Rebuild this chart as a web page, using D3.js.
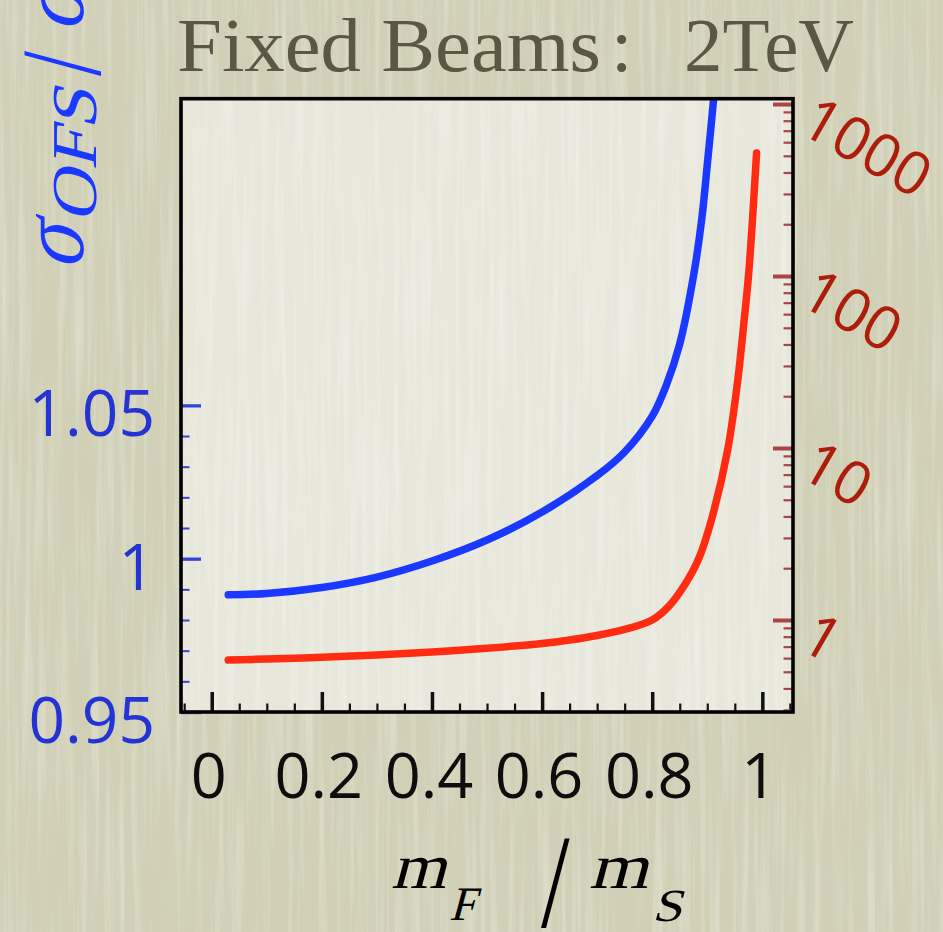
<!DOCTYPE html>
<html>
<head>
<meta charset="utf-8">
<script src="https://cdn.jsdelivr.net/npm/d3@7"></script>
<style>
  html, body { margin: 0; padding: 0; background: #d1d0b7; overflow: hidden; }
  svg { display: block; }
</style>
</head>
<body>
<svg id="chart"></svg>
<script>
// ratio sigma_OFS / sigma (left axis, linear)
var blueX     = [0.03, 0.10, 0.20, 0.30, 0.40, 0.50, 0.60, 0.70, 0.75, 0.80, 0.825, 0.85, 0.875, 0.89, 0.90, 0.914];
var blueRatio = [0.9882, 0.98865, 0.9906, 0.9940, 0.99925, 1.0061, 1.0152, 1.0271, 1.0348, 1.0465, 1.0563, 1.0700, 1.0922, 1.1108, 1.1284, 1.1545];

// second curve (right axis, log)
var redX     = [0.03, 0.10, 0.20, 0.30, 0.40, 0.50, 0.60, 0.65, 0.70, 0.75, 0.80, 0.83, 0.86, 0.885, 0.91, 0.937, 0.955, 0.967, 0.975, 0.983, 0.9895];
var redRatio = [0.585, 0.593, 0.607, 0.626, 0.652, 0.685, 0.730, 0.765, 0.813, 0.881, 1.0, 1.20, 1.619, 2.294, 4.08, 9.73, 24.2, 55.5, 101.3, 235.6, 519];

var xTicks = [0, 0.2, 0.4, 0.6, 0.8, 1];
var xTickLabels = ['0', '0.2', '0.4', '0.6', '0.8', '1'];
var leftTicks = [0.95, 1, 1.05];
var leftTickLabels = ['0.95', '1', '1.05'];
var rightTicks = [1, 10, 100, 1000];
var rightTickLabels = ['1', '10', '100', '1000'];

var w = 943, h = 932;
var plot = {left: 181, right: 793, top: 98.7, bottom: 712};

var x = d3.scaleLinear().domain([-0.0558, 1.0557]).range([plot.left, plot.right]);
var yL = d3.scaleLinear().domain([0.95, 1.15]).range([plot.bottom, plot.top]);
var yR = d3.scaleLog().domain([Math.pow(10, -0.535), Math.pow(10, 3.031)]).range([plot.bottom, plot.top]);

var svg = d3.select('#chart').attr('width', w).attr('height', h);
var defs = svg.append('defs');

// paper streaks
function streakFilter(id, freq, seed, rgb, a, b) {
  var f = defs.append('filter').attr('id', id)
      .attr('x', 0).attr('y', 0).attr('width', '100%').attr('height', '100%');
  f.append('feTurbulence').attr('type', 'fractalNoise')
      .attr('baseFrequency', freq).attr('numOctaves', 3).attr('seed', seed);
  f.append('feColorMatrix').attr('type', 'matrix')
      .attr('values', '0 0 0 0 ' + rgb[0] + ' 0 0 0 0 ' + rgb[1] + ' 0 0 0 0 ' + rgb[2] + ' ' + a + ' 0 0 0 ' + b);
}
streakFilter('lightStreaks', '0.16 0.005', 3, [0.92, 0.92, 0.85], 1.6, -0.74);
streakFilter('darkStreaks', '0.13 0.006', 11, [0.64, 0.63, 0.52], 1.4, -0.68);
streakFilter('plotStreaks', '0.16 0.005', 5, [1, 1, 0.98], 1.2, -0.52);

defs.append('clipPath').attr('id', 'plotClip')
  .append('rect')
    .attr('x', plot.left).attr('y', plot.top)
    .attr('width', plot.right - plot.left).attr('height', plot.bottom - plot.top);

svg.append('rect').attr('width', w).attr('height', h).attr('fill', '#d1d0b7');
svg.append('rect').attr('width', w).attr('height', h).attr('filter', 'url(#darkStreaks)').attr('opacity', 0.45);
svg.append('rect').attr('width', w).attr('height', h).attr('filter', 'url(#lightStreaks)').attr('opacity', 0.55);

// plot background
svg.append('rect')
    .attr('x', plot.left).attr('y', plot.top)
    .attr('width', plot.right - plot.left).attr('height', plot.bottom - plot.top)
    .attr('fill', '#e7e7db');
svg.append('rect')
    .attr('x', plot.left).attr('y', plot.top)
    .attr('width', plot.right - plot.left).attr('height', plot.bottom - plot.top)
    .attr('filter', 'url(#plotStreaks)').attr('opacity', 0.6);

// ticks
function tickGroup(axis, tx, ty, color, width) {
  var g = svg.append('g').attr('transform', 'translate(' + tx + ',' + ty + ')').call(axis);
  g.select('.domain').remove();
  g.selectAll('text').remove();
  g.selectAll('line').attr('stroke', color).attr('stroke-width', width);
  return g;
}

var xMinor = d3.range(-0.05, 1.0501, 0.05).filter(function(v) { return Math.abs(v * 5 - Math.round(v * 5)) > 1e-6; });
tickGroup(d3.axisBottom(x).tickValues(xMinor).tickSize(-8.5), 0, plot.bottom, '#111', 2.2);
tickGroup(d3.axisBottom(x).tickValues(xTicks).tickSize(-20), 0, plot.bottom, '#111', 3.5);

var leftMinor = d3.range(0.96, 1.045, 0.01).filter(function(v) { return Math.abs(v - 1) > 1e-6; });
tickGroup(d3.axisLeft(yL).tickValues(leftMinor).tickSize(-8.5), plot.left, 0, '#3443d8', 2);
tickGroup(d3.axisLeft(yL).tickValues(leftTicks).tickSize(-20), plot.left, 0, '#3443d8', 3.3);

var rightMinor = [];
[0.1, 1, 10, 100].forEach(function(d) {
  for (var k = 2; k <= 9; k++) {
    var v = d * k;
    if (v > yR.domain()[0] && v < yR.domain()[1]) rightMinor.push(v);
  }
});
tickGroup(d3.axisRight(yR).tickValues(rightMinor).tickSize(-9.5), plot.right, 0, '#a84646', 2.2);
tickGroup(d3.axisRight(yR).tickValues(rightTicks).tickSize(-20), plot.right, 0, '#a84646', 4);

// curves
var curves = svg.append('g').attr('clip-path', 'url(#plotClip)');
var blueLine = d3.line()
    .x(function(d, i) { return x(blueX[i]); })
    .y(function(d) { return yL(d); })
    .curve(d3.curveCatmullRom.alpha(0.5));
var redLine = d3.line()
    .x(function(d, i) { return x(redX[i]); })
    .y(function(d) { return yR(d); })
    .curve(d3.curveCatmullRom.alpha(0.5));

curves.append('path').datum(blueRatio)
    .attr('d', blueLine)
    .attr('fill', 'none').attr('stroke', '#1a38ff')
    .attr('stroke-width', 7.5).attr('stroke-linecap', 'round');
curves.append('path').datum(redRatio)
    .attr('d', redLine)
    .attr('fill', 'none').attr('stroke', '#ff2c12')
    .attr('stroke-width', 7.5).attr('stroke-linecap', 'round');

// frame
svg.append('rect')
    .attr('x', plot.left).attr('y', plot.top)
    .attr('width', plot.right - plot.left).attr('height', plot.bottom - plot.top)
    .attr('fill', 'none').attr('stroke', '#000').attr('stroke-width', 3.6);

// tick labels
var numFont = '"Open Sans", Lato, sans-serif';
svg.append('g').selectAll('text')
    .data(xTicks)
    .enter().append('text')
    .attr('x', function(d) { return x(d) - 3; })
    .attr('y', 798)
    .attr('text-anchor', 'middle')
    .attr('font-family', numFont).attr('font-size', 63)
    .attr('fill', '#0d0d0d')
    .text(function(d, i) { return xTickLabels[i]; });

svg.append('g').selectAll('text')
    .data(leftTicks)
    .enter().append('text')
    .attr('x', 155)
    .attr('y', function(d) { return yL(d) + 31; })
    .attr('text-anchor', 'end')
    .attr('font-family', numFont).attr('font-size', 64)
    .attr('fill', '#2433d4')
    .text(function(d, i) { return leftTickLabels[i]; });

svg.append('g').selectAll('text')
    .data(rightTicks)
    .enter().append('text')
    .attr('transform', function(d) { return 'translate(797,' + (yR(d) + 27) + ') rotate(30)'; })
    .attr('font-family', numFont).attr('font-size', 60)
    .attr('fill', '#ad1d0b')
    .text(function(d, i) { return rightTickLabels[i]; });

// title
var serif = '"Liberation Serif", "DejaVu Serif", serif';
var title = svg.append('text')
    .attr('y', 71)
    .attr('font-family', serif)
    .attr('font-size', 77)
    .attr('fill', '#5b5742');
title.append('tspan').attr('x', 177).attr('textLength', 424).attr('lengthAdjust', 'spacingAndGlyphs').text('Fixed Beams');
title.append('tspan').attr('x', 611).text(':');
title.append('tspan').attr('x', 684).attr('textLength', 170).attr('lengthAdjust', 'spacingAndGlyphs').text('2TeV');

// math-style piece of a label: slanted serif, or a tall thin slash
function mathText(parent, tx, ty, size, str, extra, len) {
  var t = parent.append('text')
      .attr('transform', 'translate(' + tx + ',' + ty + ') ' + extra)
      .attr('font-size', size)
      .text(str);
  if (len) t.attr('textLength', len).attr('lengthAdjust', 'spacingAndGlyphs');
  return t;
}

// x axis label
var xl = svg.append('g').attr('font-family', serif).attr('fill', '#000');
mathText(xl, 391, 888, 64, 'm', 'skewX(-15)', 55);
mathText(xl, 449, 920, 48, 'F', 'skewX(-15)', 26);
mathText(xl, 541, 927, 98, '/', 'scale(1.05,1.36)');
mathText(xl, 589, 888, 64, 'm', 'skewX(-15)', 59);
mathText(xl, 652, 921, 46, 'S', 'skewX(-15)', 30);

// y axis label (rotated, clipped at the top of the page)
var yl = svg.append('g')
    .attr('transform', 'translate(83,273) rotate(-90)')
    .attr('font-family', serif).attr('fill', '#1a38ff');
mathText(yl, 2, 0, 92, 'σ', 'skewX(-15)', 46);
mathText(yl, 50, 13, 64, 'OFS', 'skewX(-15)', 134);
mathText(yl, 197, 17, 86, '/', 'scale(1.05,1.34)');
mathText(yl, 240, 0, 92, 'σ', 'skewX(-15)', 46);
</script>
</body>
</html>
